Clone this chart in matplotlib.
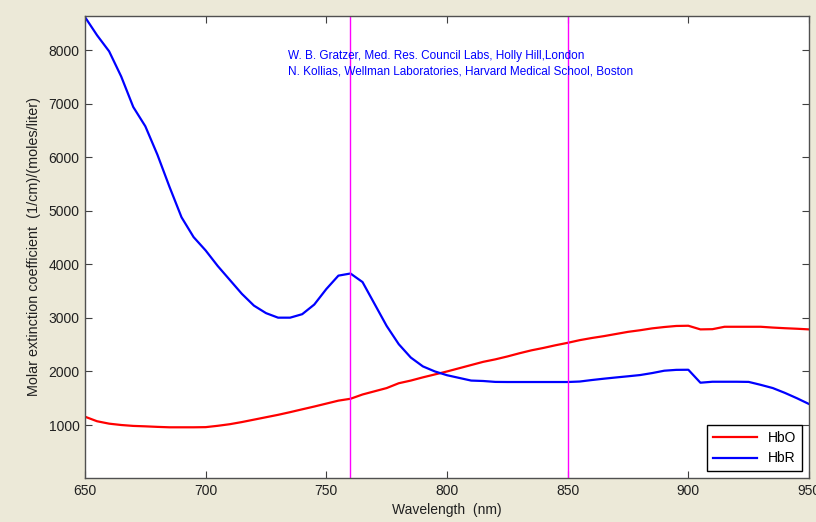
import matplotlib
matplotlib.use("Agg")
import matplotlib.pyplot as plt
import numpy as np

wavelength = list(range(650, 951, 5))

hbr = [8620, 8280, 7980, 7510, 6940, 6580, 6050, 5450, 4880, 4510,
       4260, 3970, 3710, 3450, 3230, 3090, 3005, 3005, 3070, 3250,
       3540, 3790, 3830, 3670, 3260, 2850, 2510, 2260, 2095, 2000,
       1930, 1880, 1830, 1822, 1805, 1803, 1803, 1803, 1803, 1803,
       1803, 1812, 1840, 1865, 1888, 1910, 1933, 1970, 2014, 2030,
       2032, 1790, 1808, 1808, 1808, 1805, 1750, 1690, 1600, 1500,
       1392]

hbo = [1155, 1070, 1025, 1000, 983, 975, 965, 957, 957, 957,
       960, 985, 1015, 1055, 1100, 1145, 1190, 1240, 1293, 1345,
       1400, 1455, 1490, 1570, 1630, 1690, 1780, 1830, 1890, 1945,
       2000, 2060, 2120, 2180, 2226, 2280, 2340, 2395, 2440, 2490,
       2535, 2585, 2625, 2660, 2700, 2740, 2770, 2805, 2830, 2850,
       2854, 2786, 2790, 2835, 2835, 2835, 2835, 2820, 2808, 2798,
       2786]

marker_lines = [760, 850]
x_ticks = [650, 700, 750, 800, 850, 900, 950]
y_ticks = [1000, 2000, 3000, 4000, 5000, 6000, 7000, 8000]
credits = ["W. B. Gratzer, Med. Res. Council Labs, Holly Hill,London",
           "N. Kollias, Wellman Laboratories, Harvard Medical School, Boston"]

plt.rcParams['font.family'] = ['Liberation Sans', 'DejaVu Sans']

bg = '#ECE9D8'
fig = plt.figure(figsize=(8.16, 5.22), dpi=100, facecolor=bg)
ax = fig.add_axes([85/816, 1 - 478/522, (809 - 85)/816, (478 - 16)/522])
ax.set_facecolor('white')

ax.plot(wavelength, hbo, color='#ff0000', lw=1.6, label='HbO')
ax.plot(wavelength, hbr, color='#0000ff', lw=1.6, label='HbR')
for xv in marker_lines:
    ax.axvline(xv, color='#ff00ff', lw=1.0)

ax.set_xlim(650, 950)
ax.set_ylim(10, 8640)
ax.set_xticks(x_ticks)
ax.set_yticks(y_ticks)
ax.tick_params(direction='in', top=True, right=True, length=5, width=0.8,
               color='#404040', labelsize=10, labelcolor='#202020', pad=4)
for s in ax.spines.values():
    s.set_color('#505050')
    s.set_linewidth(1.0)

ax.set_xlabel('Wavelength  (nm)', fontsize=10, color='#202020', labelpad=4)
ax.set_ylabel('Molar extinction coefficient  (1/cm)/(moles/liter)', fontsize=10.4,
              color='#202020', labelpad=5)

ax.text(734, 7900, credits[0], color='#0000ff', fontsize=8.5, va='center', ha='left')
ax.text(734, 7610, credits[1], color='#0000ff', fontsize=8.5, va='center', ha='left')

leg = ax.legend(loc='lower right', fontsize=10, frameon=True, fancybox=False,
                edgecolor='black', framealpha=1, handlelength=3.2,
                borderaxespad=0.5, borderpad=0.4, labelspacing=0.5)
leg.get_frame().set_linewidth(1.0)

fig.savefig('out.png', dpi=100, facecolor=bg)
